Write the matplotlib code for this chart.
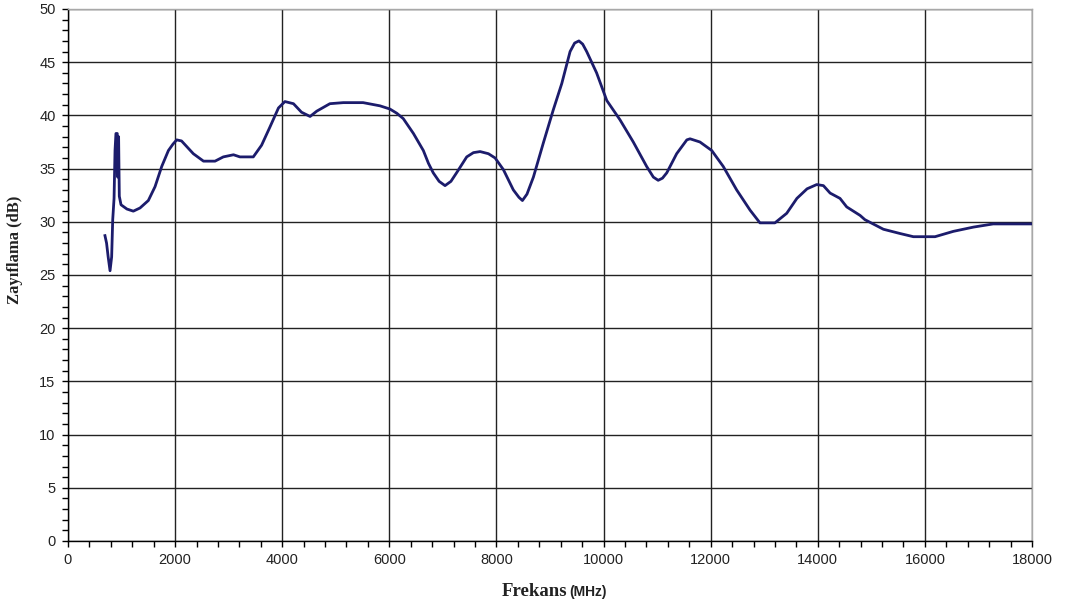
import matplotlib
matplotlib.use('Agg')
import matplotlib.pyplot as plt
from matplotlib.ticker import MultipleLocator

# attenuation vs frequency
freq = [690, 720, 750, 785, 815, 835, 860, 878, 895, 920, 928, 945, 958, 990,
        1100, 1220, 1345, 1500, 1625, 1750, 1875, 1960, 2030, 2120, 2230, 2340, 2530, 2745,
        2900, 3090, 3210, 3460, 3615, 3770, 3930, 4050, 4210, 4360, 4520, 4645,
        4890, 5140, 5510, 5825, 6010, 6140, 6260, 6450, 6635, 6730, 6820, 6930, 7040,
        7150, 7255, 7445, 7570, 7695, 7850, 7975, 8130, 8315, 8420, 8485, 8570, 8690, 8875, 9060, 9220, 9375,
        9460, 9540, 9610, 9685, 9870, 10060, 10305, 10555, 10805, 10930, 11020, 11100, 11180, 11365, 11555,
        11615, 11800, 12020, 12235, 12485, 12735, 12920, 13200, 13420, 13610,
        13800, 13980, 14105, 14230, 14415, 14540, 14790, 14880, 15225, 15535, 15785,
        16190, 16530, 16905, 17275, 18000]
atten = [28.7, 28.0, 26.7, 25.4, 26.7, 30.2, 32.2, 36.7, 38.3, 38.3, 34.2, 38.0, 32.4, 31.6,
         31.2, 31.0, 31.3, 32.0, 33.3, 35.2, 36.7, 37.3, 37.7, 37.6, 37.0, 36.4, 35.7, 35.7,
         36.1, 36.3, 36.1, 36.1, 37.2, 38.9, 40.7, 41.3, 41.1, 40.3, 39.9, 40.4,
         41.1, 41.2, 41.2, 40.9, 40.6, 40.2, 39.7, 38.3, 36.7, 35.5, 34.6, 33.8, 33.4,
         33.8, 34.6, 36.1, 36.5, 36.6, 36.4, 36.0, 34.9, 33.0, 32.3, 32.0, 32.6, 34.2, 37.4, 40.5, 43.0, 46.0,
         46.8, 47.0, 46.7, 46.0, 44.0, 41.4, 39.6, 37.5, 35.2, 34.2, 33.9, 34.1, 34.6, 36.4, 37.7,
         37.8, 37.5, 36.7, 35.2, 33.0, 31.1, 29.9, 29.9, 30.8, 32.2,
         33.1, 33.5, 33.4, 32.7, 32.2, 31.4, 30.6, 30.2, 29.3, 28.9, 28.6,
         28.6, 29.1, 29.5, 29.8, 29.8]

fig = plt.figure(figsize=(10.7, 6.1), dpi=100)
ax = fig.add_axes([68 / 1070, 69 / 610, 964 / 1070, 532 / 610])

ax.plot(freq, atten, color='#1c1c6c', linewidth=2.0, zorder=3,
        solid_joinstyle='round')

ax.set_xlim(0, 18000)
ax.set_ylim(0, 50)
ax.xaxis.set_major_locator(MultipleLocator(2000))
ax.xaxis.set_minor_locator(MultipleLocator(400))
ax.yaxis.set_major_locator(MultipleLocator(5))
ax.yaxis.set_minor_locator(MultipleLocator(1))

ax.set_axisbelow(True)
ax.grid(which='major', color='#222222', linewidth=1.0)

for side in ['left', 'bottom']:
    ax.spines[side].set_color('black')
    ax.spines[side].set_linewidth(1.0)
for side in ['top', 'right']:
    ax.spines[side].set_color('#a8a8a8')
    ax.spines[side].set_linewidth(1.0)

ax.tick_params(which='both', direction='out', length=4, width=1, color='black',
               labelsize=10.5, labelcolor='#222222', pad=5)
for lab in ax.get_xticklabels() + ax.get_yticklabels():
    lab.set_family('Liberation Sans')

fig.text(567 / 1070, 1 - 591 / 610, 'Frekans', ha='right', va='center',
         family='Liberation Serif', weight='bold', fontsize=13.5, color='#222222')
fig.text(569 / 1070, 1 - 592 / 610, '(MHz)', ha='left', va='center',
         family='Liberation Sans', weight='bold', fontsize=10, color='#222222')
fig.text(15 / 1070, 1 - 250 / 610, 'Zayıflama (dB)', ha='center', va='center',
         rotation=90, family='Liberation Serif', weight='bold', fontsize=12,
         color='#222222')

fig.savefig('out.png', dpi=100)
plt.close()
